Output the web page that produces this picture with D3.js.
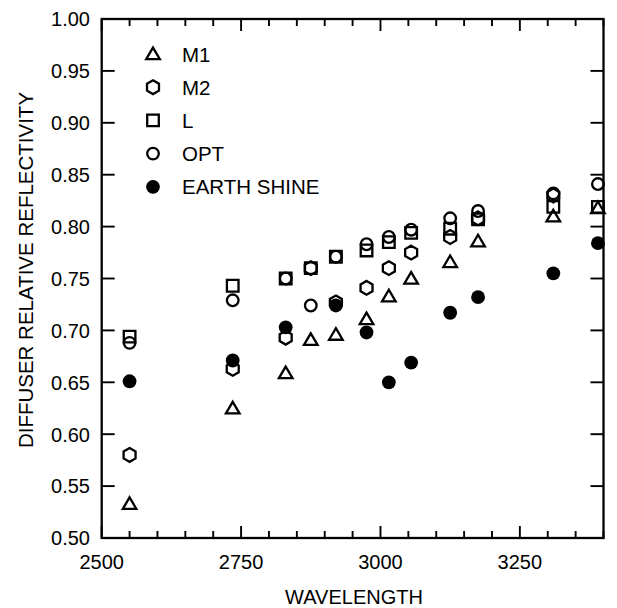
<!DOCTYPE html>
<html>
<head>
<meta charset="utf-8">
<script src="https://cdn.jsdelivr.net/npm/d3@7/dist/d3.min.js"></script>
<style>
  html, body { margin: 0; padding: 0; background: #fff; }
  svg { display: block; }
  text { font-family: "Liberation Sans", Arial, Helvetica, sans-serif; fill: #000; }
</style>
</head>
<body>
<svg id="chart" width="617" height="608"></svg>
<script>
// ---- data ----
const wavelengths = [2550, 2735, 2830, 2875, 2920, 2975, 3015, 3055, 3125, 3175, 3310, 3390];
const m1Values    = [0.533, 0.625, 0.659, 0.691, 0.696, 0.711, 0.733, 0.750, 0.766, 0.786, 0.810, 0.818];
const m2Values    = [0.580, 0.663, 0.693, 0.760, 0.727, 0.741, 0.760, 0.775, 0.790, 0.808, 0.830, null];
const lValues     = [0.694, 0.743, 0.750, 0.760, 0.771, 0.777, 0.785, 0.794, 0.798, 0.807, 0.819, 0.819];
const optValues   = [0.688, 0.729, 0.750, 0.724, 0.771, 0.783, 0.790, 0.797, 0.808, 0.815, 0.832, 0.841];
const earthValues = [0.651, 0.671, 0.703, null, 0.724, 0.698, 0.650, 0.669, 0.717, 0.732, 0.755, 0.784];

const seriesNames = ["M1", "M2", "L", "OPT", "EARTH SHINE"];
const xTickLabels = [2500, 2750, 3000, 3250];
const yTickLabels = [0.50, 0.55, 0.60, 0.65, 0.70, 0.75, 0.80, 0.85, 0.90, 0.95, 1.00];

(function () {
// ---- layout ----
const svg = d3.select("#chart");
const pLeft = 101.7, pRight = 603.5, pTop = 19, pBottom = 538;
const x = d3.scaleLinear().domain([2500, 3400]).range([pLeft, pRight]);
const y = d3.scaleLinear().domain([0.5, 1.0]).range([pBottom, pTop]);
const FS = 20;

// marker shapes
const shapes = {
  "M1": () => "M0,-6.4L6.8,5.2L-6.8,5.2Z",
  "M2": () => {
    const r = 6.9; const pts = [];
    for (let i = 0; i < 6; i++) { const a = (-90 + 60 * i) * Math.PI / 180; pts.push([r * Math.cos(a), r * Math.sin(a)]); }
    return "M" + pts.map(p => p[0].toFixed(2) + "," + p[1].toFixed(2)).join("L") + "Z";
  },
  "L": () => "M-5.8,-5.8H5.8V5.8H-5.8Z",
  "OPT": () => d3.arc()({innerRadius: 0, outerRadius: 5.8, startAngle: 0, endAngle: 2 * Math.PI}),
  "EARTH SHINE": () => d3.arc()({innerRadius: 0, outerRadius: 6.9, startAngle: 0, endAngle: 2 * Math.PI})
};
const filled = {"EARTH SHINE": true};

const seriesData = {
  "M1": m1Values, "M2": m2Values, "L": lValues, "OPT": optValues, "EARTH SHINE": earthValues
};

// ---- frame ----
svg.append("rect").attr("x", pLeft).attr("y", pTop)
  .attr("width", pRight - pLeft).attr("height", pBottom - pTop)
  .attr("fill", "none").attr("stroke", "#000").attr("stroke-width", 2.3);

// x ticks (inward, bottom and top), every 50 with major every 250
const xTicks = d3.range(2500, 3401, 50);
const tickG = svg.append("g").attr("stroke", "#000").attr("stroke-width", 1.9);
xTicks.forEach(t => {
  const len = (t % 250 === 0) ? 12 : 7;
  tickG.append("line").attr("x1", x(t)).attr("x2", x(t)).attr("y1", pBottom).attr("y2", pBottom - len);
  tickG.append("line").attr("x1", x(t)).attr("x2", x(t)).attr("y1", pTop).attr("y2", pTop + len);
});
yTickLabels.forEach(t => {
  tickG.append("line").attr("x1", pLeft).attr("x2", pLeft + 13).attr("y1", y(t)).attr("y2", y(t));
  tickG.append("line").attr("x1", pRight).attr("x2", pRight - 13).attr("y1", y(t)).attr("y2", y(t));
});

// tick labels
svg.append("g").selectAll("text").data(xTickLabels).join("text")
  .attr("x", d => x(d)).attr("y", 569).attr("text-anchor", "middle")
  .attr("font-size", FS).text(d => d);
svg.append("g").selectAll("text").data(yTickLabels).join("text")
  .attr("x", 90).attr("y", d => y(d) + 7.3).attr("text-anchor", "end")
  .attr("font-size", FS).text(d => d.toFixed(2));

// axis titles
svg.append("text").attr("x", 354).attr("y", 604).attr("text-anchor", "middle")
  .attr("font-size", FS).text("WAVELENGTH");
svg.append("text").attr("transform", "translate(33,270) rotate(-90)")
  .attr("text-anchor", "middle").attr("font-size", 20.5).text("DIFFUSER RELATIVE REFLECTIVITY");

// ---- points ----
const drawOrder = ["EARTH SHINE", "M1", "M2", "L", "OPT"];
drawOrder.forEach(name => {
  const vals = seriesData[name];
  const pts = wavelengths.map((w, i) => ({w, v: vals[i]})).filter(d => d.v !== null);
  svg.append("g").selectAll("path").data(pts).join("path")
    .attr("transform", d => `translate(${x(d.w)},${y(d.v)})`)
    .attr("d", shapes[name]())
    .attr("fill", filled[name] ? "#000" : "none")
    .attr("stroke", filled[name] ? "none" : "#000")
    .attr("stroke-width", 2.3);
});

// ---- legend ----
const legend = svg.append("g");
seriesNames.forEach((name, i) => {
  const cy = 54 + i * 33.2;
  legend.append("path").attr("transform", `translate(153,${cy})`)
    .attr("d", shapes[name]())
    .attr("fill", filled[name] ? "#000" : "none")
    .attr("stroke", filled[name] ? "none" : "#000")
    .attr("stroke-width", 2.3);
  legend.append("text").attr("x", 182).attr("y", cy + 7.5).attr("font-size", 20.5).text(name);
});
})();
</script>
</body>
</html>
